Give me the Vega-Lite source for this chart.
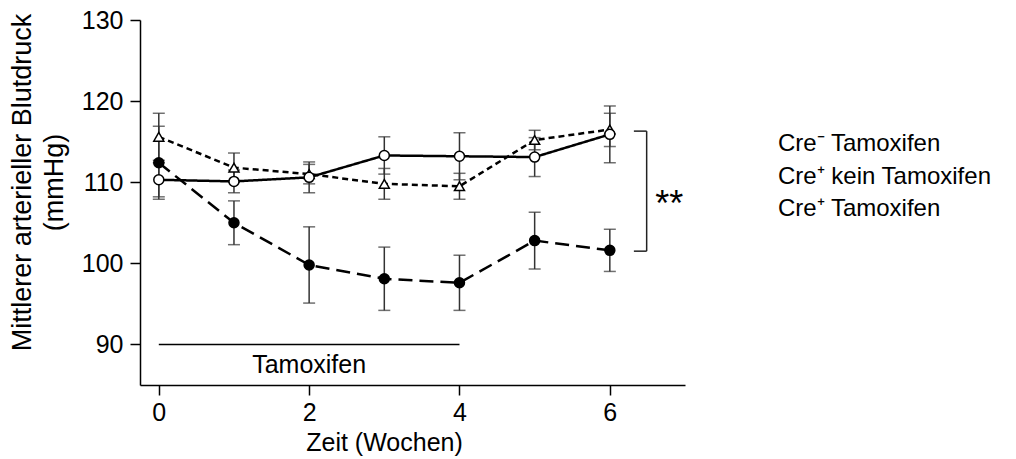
{
  "$schema": "https://vega.github.io/schema/vega-lite/v6.json",
  "width": 545,
  "height": 365,
  "autosize": "none",
  "padding": {"left": 140, "top": 20, "right": 331, "bottom": 74},
  "background": "white",
  "resolve": {"scale": {"shape": "independent"}},
  "config": {
    "view": {"stroke": null},
    "font": "Liberation Sans",
    "axis": {
      "labelFontSize": 25,
      "titleFontSize": 25,
      "titleFontWeight": "normal",
      "labelColor": "black",
      "titleColor": "black",
      "domainColor": "black",
      "tickColor": "black",
      "domainWidth": 1.5,
      "tickWidth": 1.5,
      "tickSize": 10,
      "grid": false
    }
  },
  "data": {
    "values": [
      {"t": 0, "g": "Cre⁻ Tamoxifen", "m": 115.6, "lo": 112.7, "hi": 118.5},
      {"t": 1, "g": "Cre⁻ Tamoxifen", "m": 111.8, "lo": 110.0, "hi": 113.6},
      {"t": 2, "g": "Cre⁻ Tamoxifen", "m": 111.0, "lo": 109.8, "hi": 112.2},
      {"t": 3, "g": "Cre⁻ Tamoxifen", "m": 109.8, "lo": 107.9, "hi": 111.7},
      {"t": 4, "g": "Cre⁻ Tamoxifen", "m": 109.5, "lo": 107.9, "hi": 111.1},
      {"t": 5, "g": "Cre⁻ Tamoxifen", "m": 115.2, "lo": 114.0, "hi": 116.4},
      {"t": 6, "g": "Cre⁻ Tamoxifen", "m": 116.5, "lo": 114.4, "hi": 118.5},
      {"t": 0, "g": "Cre⁺ kein Tamoxifen", "m": 110.3, "lo": 108.2, "hi": 112.4},
      {"t": 1, "g": "Cre⁺ kein Tamoxifen", "m": 110.1, "lo": 108.7, "hi": 111.5},
      {"t": 2, "g": "Cre⁺ kein Tamoxifen", "m": 110.6, "lo": 108.7, "hi": 112.5},
      {"t": 3, "g": "Cre⁺ kein Tamoxifen", "m": 113.3, "lo": 111.0, "hi": 115.6},
      {"t": 4, "g": "Cre⁺ kein Tamoxifen", "m": 113.2, "lo": 110.3, "hi": 116.1},
      {"t": 5, "g": "Cre⁺ kein Tamoxifen", "m": 113.1, "lo": 110.7, "hi": 115.5},
      {"t": 6, "g": "Cre⁺ kein Tamoxifen", "m": 115.9, "lo": 112.4, "hi": 119.4},
      {"t": 0, "g": "Cre⁺ Tamoxifen", "m": 112.4, "lo": 107.9, "hi": 116.9},
      {"t": 1, "g": "Cre⁺ Tamoxifen", "m": 105.0, "lo": 102.3, "hi": 107.7},
      {"t": 2, "g": "Cre⁺ Tamoxifen", "m": 99.8, "lo": 95.1, "hi": 104.5},
      {"t": 3, "g": "Cre⁺ Tamoxifen", "m": 98.1, "lo": 94.2, "hi": 102.0},
      {"t": 4, "g": "Cre⁺ Tamoxifen", "m": 97.6, "lo": 94.2, "hi": 101.0},
      {"t": 5, "g": "Cre⁺ Tamoxifen", "m": 102.8, "lo": 99.3, "hi": 106.3},
      {"t": 6, "g": "Cre⁺ Tamoxifen", "m": 101.6, "lo": 99.0, "hi": 104.2}
    ]
  },
  "encoding": {
    "x": {
      "field": "t", "type": "quantitative",
      "scale": {"domain": [-0.25, 7], "nice": false, "zero": false},
      "axis": {"values": [0, 2, 4, 6], "title": "Zeit (Wochen)", "labelPadding": 5, "titleX": 244, "titlePadding": 5}
    }
  },
  "layer": [
    {
      "mark": {"type": "rule", "color": "#333333", "strokeWidth": 1.5},
      "encoding": {
        "y": {"field": "lo", "type": "quantitative"},
        "y2": {"field": "hi"}
      }
    },
    {
      "mark": {"type": "tick", "orient": "horizontal", "color": "#333333", "size": 12, "thickness": 1.5},
      "encoding": {"y": {"field": "lo", "type": "quantitative"}}
    },
    {
      "mark": {"type": "tick", "orient": "horizontal", "color": "#333333", "size": 12, "thickness": 1.5},
      "encoding": {"y": {"field": "hi", "type": "quantitative"}}
    },
    {
      "mark": {"type": "line", "color": "black", "strokeWidth": 2.5},
      "encoding": {
        "y": {"field": "m", "type": "quantitative"},
        "detail": {"field": "g"},
        "strokeDash": {
          "field": "g",
          "scale": {"domain": ["Cre⁺ Tamoxifen", "Cre⁺ kein Tamoxifen", "Cre⁻ Tamoxifen"], "range": [[14, 7], [1, 0], [6, 4]]},
          "legend": null
        }
      }
    },
    {
      "mark": {"type": "point", "stroke": "black", "strokeWidth": 1.5, "size": 100, "opacity": 1},
      "encoding": {
        "y": {
          "field": "m", "type": "quantitative",
          "scale": {"domain": [85, 130], "nice": false, "zero": false},
          "axis": {
            "values": [90, 100, 110, 120, 130],
            "title": ["Mittlerer arterieller Blutdruck", "(mmHg)"],
            "titleFontSize": 27,
            "labelPadding": 7,
            "titleY": 162,
            "titleX": -131,
            "titleAngle": -90,
            "titleBaseline": "top",
            "titleLineHeight": 32,
            "titleAlign": "center"
          }
        },
        "shape": {
          "field": "g",
          "scale": {"domain": ["Cre⁺ Tamoxifen", "Cre⁺ kein Tamoxifen", "Cre⁻ Tamoxifen"], "range": ["circle", "circle", "triangle-up"]},
          "legend": null
        },
        "fill": {
          "field": "g",
          "scale": {"domain": ["Cre⁺ Tamoxifen", "Cre⁺ kein Tamoxifen", "Cre⁻ Tamoxifen"], "range": ["black", "white", "white"]},
          "legend": null
        }
      }
    },
    {
      "transform": [{"filter": "datum.t < -10"}],
      "mark": {"type": "point", "filled": true, "fill": "white", "stroke": "black", "strokeWidth": 2.5, "opacity": 1},
      "encoding": {
        "y": {"field": "m", "type": "quantitative"},
        "shape": {
          "field": "g",
          "scale": {
            "domain": ["Cre⁻ Tamoxifen", "Cre⁺ kein Tamoxifen", "Cre⁺ Tamoxifen"],
            "range": [
              "M-1,0H-0.8M-0.6,0H-0.4M-0.2,0.17L0,-0.2L0.2,0.17ZM0.4,0H0.6M0.8,0H1",
              "M-1,0H1M0.22,0L0.19,0.11L0.11,0.19L0,0.22L-0.11,0.19L-0.19,0.11L-0.22,0L-0.19,-0.11L-0.11,-0.19L0,-0.22L0.11,-0.19L0.19,-0.11Z",
              "M-1,0H-0.35M0.2,0L0.17,0.1L0.1,0.17L0,0.2L-0.1,0.17L-0.17,0.1L-0.2,0L-0.17,-0.1L-0.1,-0.17L0,-0.2L0.1,-0.17L0.17,-0.1ZM0.1,0L0.05,0.087L-0.05,0.087L-0.1,0L-0.05,-0.087L0.05,-0.087ZM0.03,0H-0.03M0.35,0H0.55M0.78,0H0.95"
            ]
          },
          "legend": {
            "title": null,
            "orient": "none",
            "legendX": 586,
            "legendY": 112,
            "padding": 0,
            "symbolSize": 1600,
            "clipHeight": 24,
            "rowPadding": 8.5,
            "labelOffset": 9,
            "labelFontSize": 24,
            "labelColor": "black",
            "labelLimit": 400,
            "symbolStrokeColor": "black",
            "symbolFillColor": "white",
            "symbolStrokeWidth": 2.5,
            "encode": {
              "symbols": {
                "stroke": {"value": "black"},
                "fill": {"value": "white"},
                "strokeWidth": {"value": 2.5},
                "opacity": {"value": 1}
              }
            }
          }
        }
      }
    },
    {
      "data": {"values": [{"x": 0, "x2": 4, "y": 90}]},
      "mark": {"type": "rule", "color": "black", "strokeWidth": 1.5},
      "encoding": {
        "x": {"field": "x", "type": "quantitative"},
        "x2": {"field": "x2"},
        "y": {"field": "y", "type": "quantitative"}
      }
    },
    {
      "data": {"values": [{"x": 2, "y": 86.5, "label": "Tamoxifen"}]},
      "mark": {"type": "text", "fontSize": 25, "color": "black", "align": "center", "baseline": "alphabetic"},
      "encoding": {
        "x": {"field": "x", "type": "quantitative"},
        "y": {"field": "y", "type": "quantitative"},
        "text": {"field": "label"}
      }
    },
    {
      "data": {"values": [
        {"x": 6.32, "x2": 6.49, "y": 116.3, "y2": 116.3},
        {"x": 6.49, "x2": 6.49, "y": 116.3, "y2": 101.5},
        {"x": 6.32, "x2": 6.49, "y": 101.5, "y2": 101.5}
      ]},
      "mark": {"type": "rule", "color": "#222222", "strokeWidth": 1.5},
      "encoding": {
        "x": {"field": "x", "type": "quantitative"},
        "x2": {"field": "x2"},
        "y": {"field": "y", "type": "quantitative"},
        "y2": {"field": "y2"}
      }
    },
    {
      "data": {"values": [{"x": 6.79, "y": 105.8, "label": "**"}]},
      "mark": {"type": "text", "fontSize": 36, "color": "black", "align": "center", "baseline": "alphabetic"},
      "encoding": {
        "x": {"field": "x", "type": "quantitative"},
        "y": {"field": "y", "type": "quantitative"},
        "text": {"field": "label"}
      }
    }
  ]
}
